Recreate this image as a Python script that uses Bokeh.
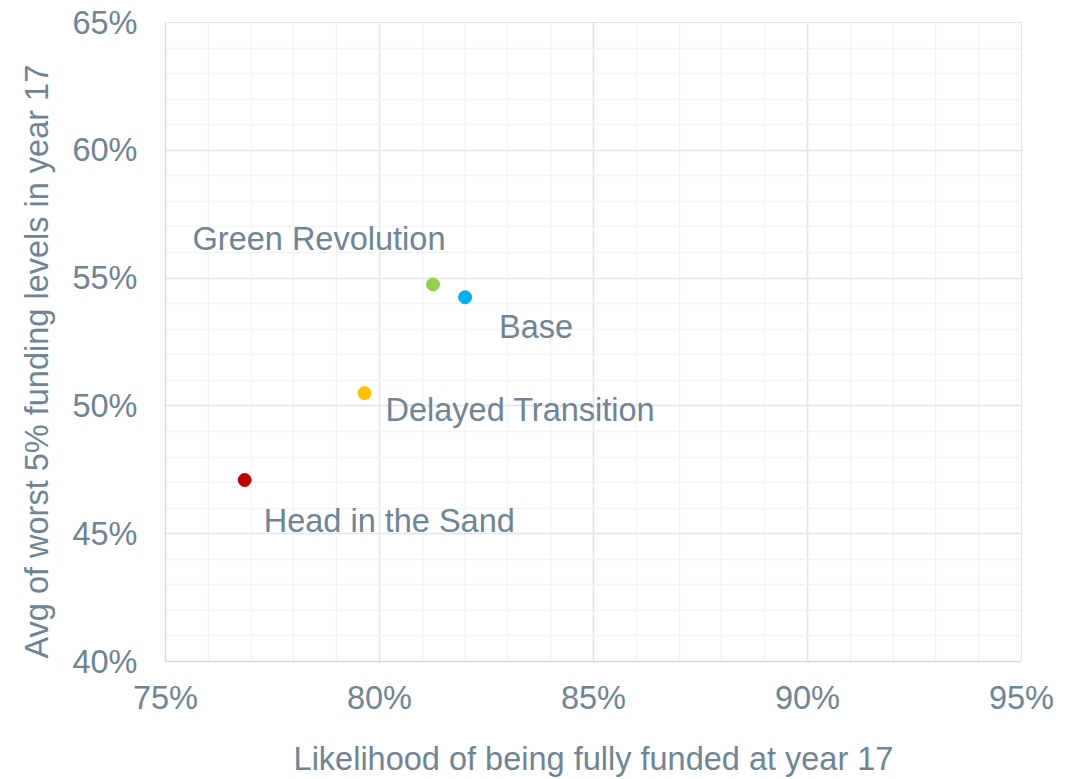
from bokeh.plotting import figure
from bokeh.models import ColumnDataSource, Range1d, SingleIntervalTicker, PrintfTickFormatter, Title
from bokeh.core.properties import value
from bokeh.embed import file_html
from bokeh.resources import INLINE

scenarios = ["Green Revolution", "Base", "Delayed Transition", "Head in the Sand"]
likelihood = [81.25, 82.0, 79.65, 76.85]      # % fully funded at year 17
worst5 = [54.75, 54.25, 50.5, 47.1]           # avg of worst 5% funding levels
colors = ["#92D050", "#00B0F0", "#FFC000", "#C00000"]
x_title = "Likelihood of being fully funded at year 17"
y_title = "Avg of worst 5% funding levels in year 17"

# label placement (pixels) relative to each point
label_dx = [-114, 34, 21, 19]
label_dy = [-45, 30, 17, 41]
label_align = ["center", "left", "left", "left"]

FONT = "Liberation Sans"
TXT = "#6F8495"
FS = "32.5px"

src = ColumnDataSource(dict(x=likelihood, y=worst5, name=scenarios, color=colors,
                            dx=label_dx, dy=label_dy, align=label_align))

p = figure(width=1077, height=779, output_backend="svg", toolbar_location=None,
           x_range=Range1d(75, 95), y_range=Range1d(40, 65),
           min_border_left=165, min_border_top=22, min_border_right=56, min_border_bottom=116)

p.outline_line_color = "#E3E6E9"
p.background_fill_color = "white"
p.border_fill_color = "white"

for ax in (p.xaxis[0], p.yaxis[0]):
    ax.ticker = SingleIntervalTicker(interval=5, num_minor_ticks=5)
    ax.formatter = PrintfTickFormatter(format="%d%%")
    ax.major_label_text_font = FONT
    ax.major_label_text_font_size = FS
    ax.major_label_text_color = TXT
    ax.axis_line_color = "#D5DADF"
    ax.axis_line_width = 1.5
    ax.major_tick_line_color = None
    ax.minor_tick_line_color = None

p.xaxis.major_label_standoff = 12
p.yaxis.major_label_standoff = 22

# x-axis title on the axis itself
p.xaxis.axis_label = x_title
p.xaxis.axis_label_text_font = FONT
p.xaxis.axis_label_text_font_style = "normal"
p.xaxis.axis_label_text_font_size = FS
p.xaxis.axis_label_text_color = TXT
p.xaxis.axis_label_standoff = 22

for g in (p.xgrid[0], p.ygrid[0]):
    g.ticker = SingleIntervalTicker(interval=5, num_minor_ticks=5)
    g.grid_line_color = "#E3E6E9"
    g.grid_line_width = 1.5
    g.minor_grid_line_color = "#F1F3F4"
    g.minor_grid_line_width = 1.5

p.scatter("x", "y", source=src, size=13, color="color", line_color="color")

p.text("x", "y", text="name", source=src, x_offset="dx", y_offset="dy",
       text_align="align", text_baseline="middle", text_font=value(FONT),
       text_font_size=FS, text_color=TXT)

# y-axis title, anchored at the bottom of the plot area
p.add_layout(Title(text=y_title, align="left", offset=3, standoff=30,
                   text_font=FONT, text_font_size=FS, text_font_style="normal",
                   text_color=TXT), "left")

open("out.html", "w").write(file_html(p, INLINE))
